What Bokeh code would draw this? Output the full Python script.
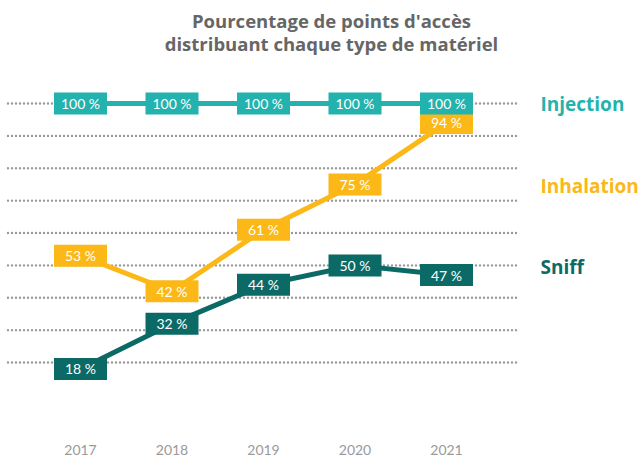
from bokeh.plotting import figure
from bokeh.models import Range1d, ColumnDataSource
from bokeh.core.properties import value
from bokeh.embed import file_html
from bokeh.resources import INLINE

years = [2017, 2018, 2019, 2020, 2021]
year_labels = ["2017", "2018", "2019", "2020", "2021"]
injection = [100, 100, 100, 100, 100]
inhalation = [53, 42, 61, 75, 94]
sniff = [18, 32, 44, 50, 47]
grid_values = [20, 30, 40, 50, 60, 70, 80, 90, 100]
series_names = ["Sniff", "Inhalation", "Injection"]
series_colors = ["#0b6a66", "#fbb817", "#23b2ad"]
title_lines = ["Pourcentage de points d'accès", "distribuant chaque type de matériel"]

# layout (positions in data space)
px_per_year = 91.5
px_per_pct = 3.2375
W, H = 640, 456
x0 = 2017 - 80 / px_per_year
y_top = 100 + 103 / px_per_pct
y_bot = 100 - (H - 103) / px_per_pct

p = figure(width=W, height=H, output_backend="svg", toolbar_location=None,
           x_range=Range1d(x0, x0 + W / px_per_year), y_range=Range1d(y_bot, y_top),
           min_border=0, outline_line_color=None, background_fill_color="white",
           border_fill_color="white")
p.axis.visible = False
p.xgrid.visible = False
p.ygrid.visible = False

# dotted gridlines
gx0 = 2017 + (7.5 - 80) / px_per_year
gx1 = 2017 + (519 - 80) / px_per_year
p.segment(x0=[gx0] * len(grid_values), x1=[gx1] * len(grid_values),
          y0=grid_values, y1=grid_values, line_color="#9a9a9a",
          line_width=2.4, line_dash="0 4", line_cap="round")

# title
tx = 2017 + (331 - 80) / px_per_year
p.text(x=[tx, tx], y=[100 + 83 / px_per_pct, 100 + 60 / px_per_pct], text=title_lines,
       text_align="center", text_baseline="middle", text_font=value("Open Sans"),
       text_font_style="bold", text_font_size="18.5px", text_color="#666666")

# year labels
p.text(x=years, y=[100 - 346 / px_per_pct] * len(years), text=year_labels,
       text_align="center", text_baseline="middle", text_font=value("Lato"),
       text_font_size="14px", text_color="#9a9a9a")

series_vals = [sniff, inhalation, injection]
label_y = [100 - 163 / px_per_pct, 100 - 82 / px_per_pct, 100]
lx = 2017 + (540 - 80) / px_per_year
for name, col, vals, ly in zip(series_names, series_colors, series_vals, label_y):
    src = ColumnDataSource(dict(x=years, y=vals, t=[f"{v} %" for v in vals]))
    p.line("x", "y", source=src, line_color=col, line_width=5)
    p.rect("x", "y", width=53, height=22, width_units="screen", height_units="screen",
           source=src, fill_color=col, line_color=None)
    p.text("x", "y", text="t", source=src, text_align="center", text_baseline="middle",
           text_font=value("Lato"), text_font_size="14px", text_color="white")
    p.text(x=[lx], y=[ly], text=[name], text_align="left", text_baseline="middle",
           text_font=value("Open Sans"), text_font_style="bold", text_font_size="19px",
           text_color=col)

open("out.html", "w").write(file_html(p, INLINE))
